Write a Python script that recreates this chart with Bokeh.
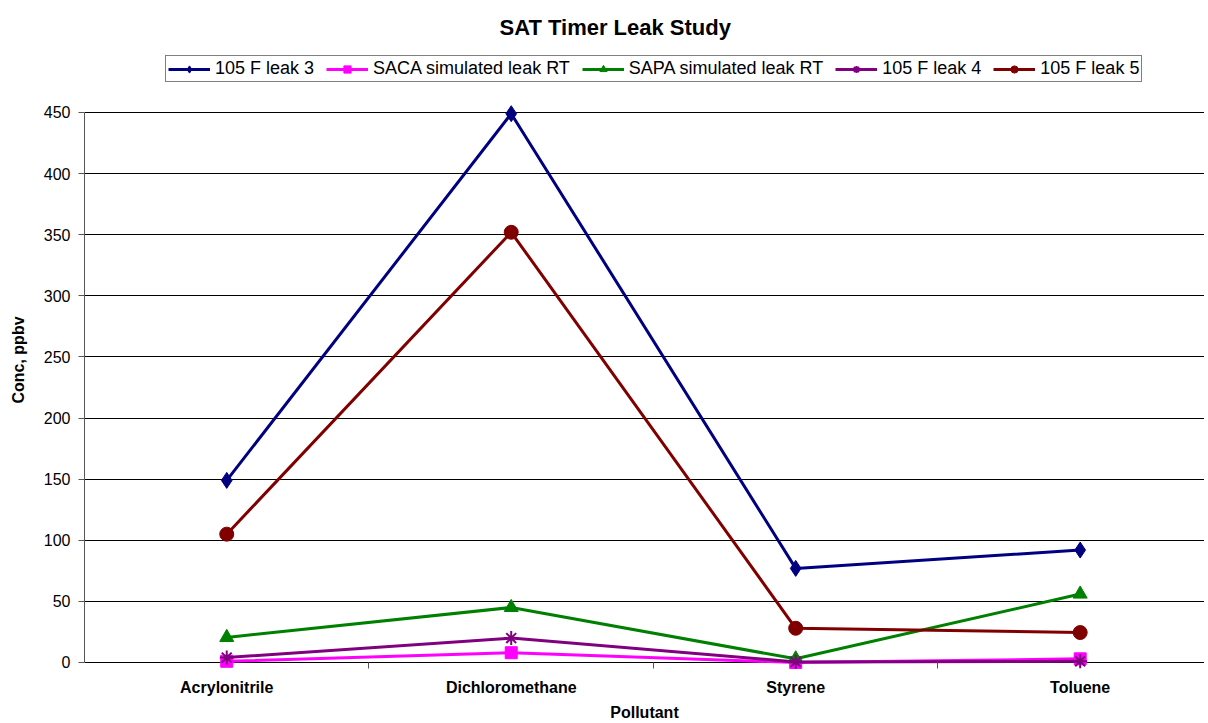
from bokeh.plotting import figure
from bokeh.models import Range1d, FixedTicker, Legend, Title
from bokeh.embed import file_html
from bokeh.resources import INLINE

categories = ["Acrylonitrile", "Dichloromethane", "Styrene", "Toluene"]
series_names = ["105 F leak 3", "SACA simulated leak RT", "SAPA simulated leak RT",
                "105 F leak 4", "105 F leak 5"]
leak3 = [149, 449, 77, 92]
saca = [1, 8, 0, 3]
sapa = [20.5, 45, 3, 56]
leak4 = [4, 20, 0.5, 1]
leak5 = [105, 352, 28, 24.5]
y_ticks = [0, 50, 100, 150, 200, 250, 300, 350, 400, 450]

FONT = "Liberation Sans"

p = figure(frame_width=1120, frame_height=619, output_backend="svg", toolbar_location=None,
           x_range=Range1d(-0.5, 3.437), y_range=Range1d(-5.73, 500.72),
           min_border_left=84, min_border_right=0, min_border_top=50, min_border_bottom=0)
p.outline_line_color = None
p.background_fill_color = "white"
p.border_fill_color = "white"

xs = list(range(len(categories)))
styles = [
    (leak3, "#000080", "diamond", 16),
    (saca, "#FF00FF", "square", 12),
    (sapa, "#008000", "triangle", 14),
    (leak4, "#800080", "asterisk", 14),
    (leak5, "#800000", "circle", 14),
]
items = []
for name, (vals, col, marker, size) in zip(series_names, styles):
    r1 = p.line(xs, vals, line_color=col, line_width=3)
    r2 = p.scatter(xs, vals, marker=marker, size=size, fill_color=col, line_color=col,
                   line_width=2 if marker == "asterisk" else 1)
    items.append((name, [r1, r2]))

legend = Legend(items=[(n, r) for n, r in items], orientation="horizontal",
                location=(81, 587), border_line_color="black", border_line_width=1,
                label_text_font=FONT, label_text_font_size="18px", label_standoff=5,
                label_text_color="black",
                glyph_width=42, glyph_height=18, label_height=18, padding=2, spacing=12,
                margin=0, background_fill_alpha=1)
p.add_layout(legend, "center")

p.title = Title(text="SAT Timer Leak Study", align="left", offset=415, standoff=22,
                text_font=FONT, text_font_size="22px", text_font_style="bold",
                text_color="black")

# y axis
p.yaxis.ticker = FixedTicker(ticks=y_ticks)
p.yaxis.bounds = (0, 450)
p.yaxis.axis_label = "Conc, ppbv"
p.yaxis.axis_label_text_font = FONT
p.yaxis.axis_label_text_font_size = "16px"
p.yaxis.axis_label_text_font_style = "bold"
p.yaxis.axis_label_text_color = "black"
p.yaxis.axis_label_standoff = 14
p.yaxis.major_label_text_font = FONT
p.yaxis.major_label_text_font_size = "16px"
p.yaxis.major_label_text_color = "black"
p.yaxis.axis_line_color = "#555555"
p.yaxis.major_tick_line_color = "#555555"
p.yaxis.major_tick_out = 6
p.yaxis.major_tick_in = 0
p.yaxis.minor_tick_line_color = None
p.yaxis.major_label_standoff = 8

# x axis
p.xaxis.ticker = FixedTicker(ticks=xs, minor_ticks=[0.5, 1.5, 2.5])
p.xaxis.major_label_overrides = {i: c for i, c in enumerate(categories)}
p.xaxis.major_tick_line_color = None
p.xaxis.axis_line_color = None
p.xaxis.minor_tick_line_color = "#555555"
p.xaxis.minor_tick_in = 7
p.xaxis.minor_tick_out = -1
p.xaxis.major_label_text_font = FONT
p.xaxis.major_label_text_font_size = "16px"
p.xaxis.major_label_text_font_style = "bold"
p.xaxis.major_label_text_color = "black"
p.xaxis.major_label_standoff = 3
p.xaxis.axis_label = "Pollutant"
p.xaxis.axis_label_text_font = FONT
p.xaxis.axis_label_text_font_size = "16px"
p.xaxis.axis_label_text_font_style = "bold"
p.xaxis.axis_label_text_color = "black"
p.xaxis.axis_label_standoff = 5

p.xgrid.grid_line_color = None
p.ygrid.ticker = FixedTicker(ticks=y_ticks)
p.ygrid.grid_line_color = "black"
p.ygrid.grid_line_width = 1

open("out.html", "w").write(file_html(p, INLINE))
